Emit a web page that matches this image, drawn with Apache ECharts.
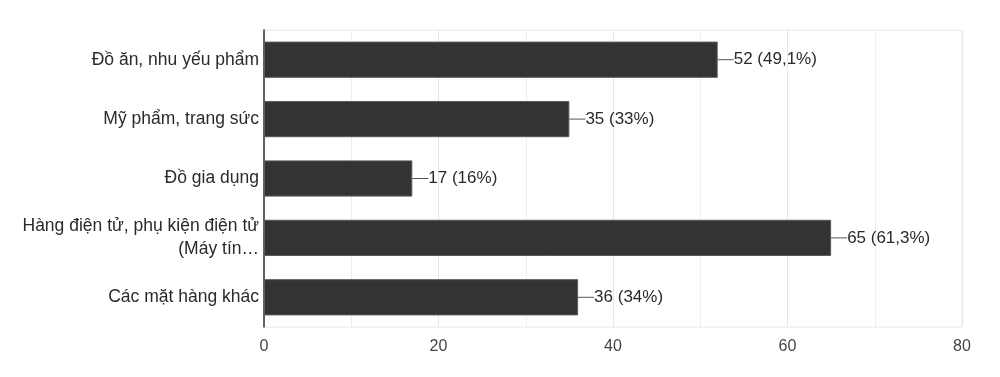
<!DOCTYPE html>
<html>
<head>
<meta charset="utf-8" />
<title>Bar chart</title>
<script src="https://cdn.jsdelivr.net/npm/echarts@6/dist/echarts.min.js"></script>
<style>
  html, body { margin: 0; padding: 0; background: #fff; }
  #main { width: 1000px; height: 377px; }
</style>
</head>
<body>
<div id="main"></div>
<script>
// data
var categories = [
  'Đồ ăn, nhu yếu phẩm',
  'Mỹ phẩm, trang sức',
  'Đồ gia dụng',
  'Hàng điện tử, phụ kiện điện tử\n(Máy tín…',
  'Các mặt hàng khác'
];
var counts = [52, 35, 17, 65, 36];
var percents = ['49,1%', '33%', '16%', '61,3%', '34%'];

var chart = echarts.init(document.getElementById('main'));

var option = {
  animation: false,
  textStyle: { fontFamily: 'Liberation Sans, Arial, sans-serif' },
  grid: {
    left: 264, right: 38, top: 30, bottom: 50,
    show: true, borderColor: '#e6e6e6', borderWidth: 1
  },
  xAxis: {
    type: 'value',
    min: 0, max: 80, interval: 20,
    axisLine: { show: false },
    axisTick: { show: false },
    axisLabel: { color: '#444', fontSize: 16, margin: 12 },
    splitLine: { lineStyle: { color: '#e6e6e6' } },
    minorTick: { show: false, splitNumber: 2 },
    minorSplitLine: { show: true, lineStyle: { color: '#eeeeee' } }
  },
  yAxis: {
    type: 'category',
    inverse: true,
    data: categories,
    axisLine: { lineStyle: { color: '#333', width: 1.5 } },
    axisTick: { show: false },
    axisLabel: { color: '#2a2a2a', fontSize: 17.5, margin: 5, lineHeight: 23, align: 'right' }
  },
  series: [{
    type: 'bar',
    data: counts,
    barWidth: '61%',
    itemStyle: { color: '#333333', borderColor: '#5a5a5a', borderWidth: 1 },
    label: {
      show: true,
      position: 'right',
      distance: 0,
      color: '#2a2a2a',
      fontSize: 17,
      formatter: function (p) {
        return '{line|}' + counts[p.dataIndex] + ' (' + percents[p.dataIndex] + ')';
      },
      rich: {
        line: { width: 16, height: 1, backgroundColor: '#555' }
      }
    }
  }]
};

chart.setOption(option);
</script>
</body>
</html>
